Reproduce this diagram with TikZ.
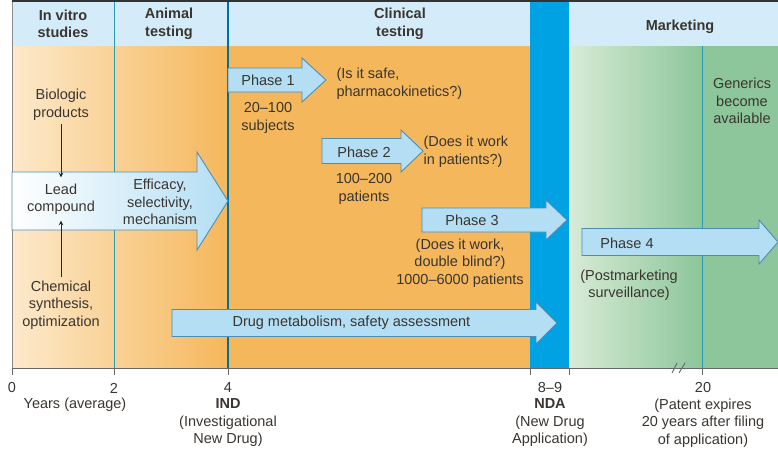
\documentclass[tikz,border=0pt]{standalone}
\usepackage{fontspec}
\setmainfont{Liberation Sans}
\usepackage{tikz}
\usepackage{xcolor}
\usetikzlibrary{positioning}
\definecolor{hdrblue}{HTML}{D4ECF9}
\definecolor{peach}{HTML}{FDE9CB}
\definecolor{orng}{HTML}{F5B75C}
\definecolor{ndablue}{HTML}{00A2E3}
\definecolor{paleg}{HTML}{D8EBD6}
\definecolor{grn}{HTML}{8CC69A}
\definecolor{arrfill}{HTML}{B3DEF4}
\definecolor{arredge}{HTML}{4F8DB5}
\definecolor{vline}{HTML}{2A9DB5}
\definecolor{txt}{HTML}{3A3530}
\newcommand{\diagfont}{\fontsize{14.5}{17.5}\selectfont}
\tikzstyle{hdr} = [font=\diagfont\bfseries, align=center, text=txt]
\tikzstyle{note} = [align=center, text=txt]
\tikzstyle{blockarrow} = [draw=arredge, fill=arrfill, line width=0.9pt]
\tikzstyle{leadarrow} = [draw=arredge, left color=white, right color=arrfill, line width=0.9pt]
\tikzstyle{thinarrow} = [line width=1pt,->,>=stealth, black!85]
\tikzstyle{grid} = [vline, line width=0.9pt]
\tikzstyle{axis} = [black!60, line width=0.9pt]
% block arrow: style, tail x, head base x, tip x, mid y, half body, half head
\newcommand{\bigarrow}[7]{%
  \draw[#1] ({#2},{#5-#6}) -- ({#3},{#5-#6}) -- ({#3},{#5-#7}) -- ({#4},{#5}) -- ({#3},{#5+#7}) -- ({#3},{#5+#6}) -- ({#2},{#5+#6}) -- cycle;}

\begin{document}
\begin{tikzpicture}[x=1pt, y=-1pt, node distance=38pt, font=\diagfont]
        \useasboundingbox (0,0) rectangle (778,452);
        % stages
        \fill[left color=peach, right color=orng] (12,46) rectangle (228,368);
        \fill[orng] (228,46) rectangle (531,368);
        \fill[left color=paleg, right color=grn] (569,46) rectangle (702,368);
        \fill[grn] (702,46) rectangle (778,368);
        \fill[hdrblue] (12,2) rectangle (778,46);
        \fill[ndablue] (530,2) rectangle (569,368);
        \draw[black!80, line width=2pt] (12,1) -- (778,1);
        \draw[black!45, line width=0.9pt] (12,2) -- (12,368);
        \draw[grid] (114,2) -- (114,368);
        \draw[grid, line width=1.8pt, color=ndablue!70!black] (228,2) -- (228,368);
        \draw[grid] (702,46) -- (702,368);

        \node (invitro) [hdr] at (63,24) {In vitro\\studies};
        \node (animal) [hdr] at (169,24) {Animal\\testing};
        \node (clinical) [hdr] at (400,24) {Clinical\\testing};
        \node (marketing) [hdr] at (680,27) {Marketing};

        % arrows
        \bigarrow{leadarrow}{12}{197}{228}{201}{29}{49}
        \bigarrow{blockarrow}{228}{302}{326}{80}{12}{22}
        \bigarrow{blockarrow}{322}{401}{423}{151}{12.5}{21}
        \bigarrow{blockarrow}{422}{546}{567}{220}{12}{20}
        \bigarrow{blockarrow}{172}{536}{557}{323}{13.5}{21}
        \bigarrow{blockarrow}{582}{759}{778}{242}{13.5}{22}

        \node (biologic) [note] at (61,105) {Biologic\\products};
        \node (lead) [note, inner sep=6pt] at (61,199) {Lead\\compound};
        \node (efficacy) [note] at (160,202) {Efficacy,\\selectivity,\\mechanism};
        \node (chemical) [note] at (61,305) {Chemical\\synthesis,\\optimization};
        \draw [thinarrow] (biologic.south) -- (lead.north);
        \draw [thinarrow] (chemical.north) -- (lead.south);

        \node (phase1) [note] at (268,80) {Phase 1};
        \node (subj1) [note, below of=phase1] {20–100\\subjects};
        \node (ask1) [note, align=left, anchor=west] at (333,84) {(Is it safe,\\pharmacokinetics?)};
        \node (phase2) [note] at (364,152) {Phase 2};
        \node (pat2) [note, below of=phase2, yshift=1pt] {100–200\\patients};
        \node (ask2) [note, align=left, anchor=west] at (420,152) {(Does it work\\in patients?)};
        \node (phase3) [note] at (472,220) {Phase 3};
        \node (ask3) [note, below of=phase3, yshift=-5pt, xshift=-12pt] {(Does it work,\\double blind?)\\1000–6000 patients};
        \node (drug) [note, anchor=west] at (229,323) {Drug metabolism, safety assessment};
        \node (phase4) [note] at (627,243) {Phase 4};
        \node (ask4) [note, below of=phase4, yshift=-4pt, xshift=2pt] {(Postmarketing\\surveillance)};
        \node (generics) [note] at (742,101) {Generics\\become\\available};

        % time axis
        \draw [axis] (12,368) -- (778,368);
        \foreach \x in {12,114,228,530,569,702}
            \draw [axis] (\x,368) -- (\x,375);
        \draw [axis] (672,373) -- (677,363);
        \draw [axis] (679,373) -- (685,363);
        \node (t0) [note] at (12,388) {0};
        \node (t2) [note] at (114,388) {2};
        \node (t4) [note] at (228,388) {4};
        \node (t89) [note] at (550,388) {8–9};
        \node (t20) [note] at (703,388) {20};
        \node (years) [note] at (75,405) {Years (average)};
        \node (ind) [note] at (228,423) {\textbf{IND}\\(Investigational\\New Drug)};
        \node (nda) [note] at (550,423) {\textbf{NDA}\\(New Drug\\Application)};
        \node (patent) [note] at (703,423) {(Patent expires\\20 years after filing\\of application)};
    \end{tikzpicture}
\end{document}
